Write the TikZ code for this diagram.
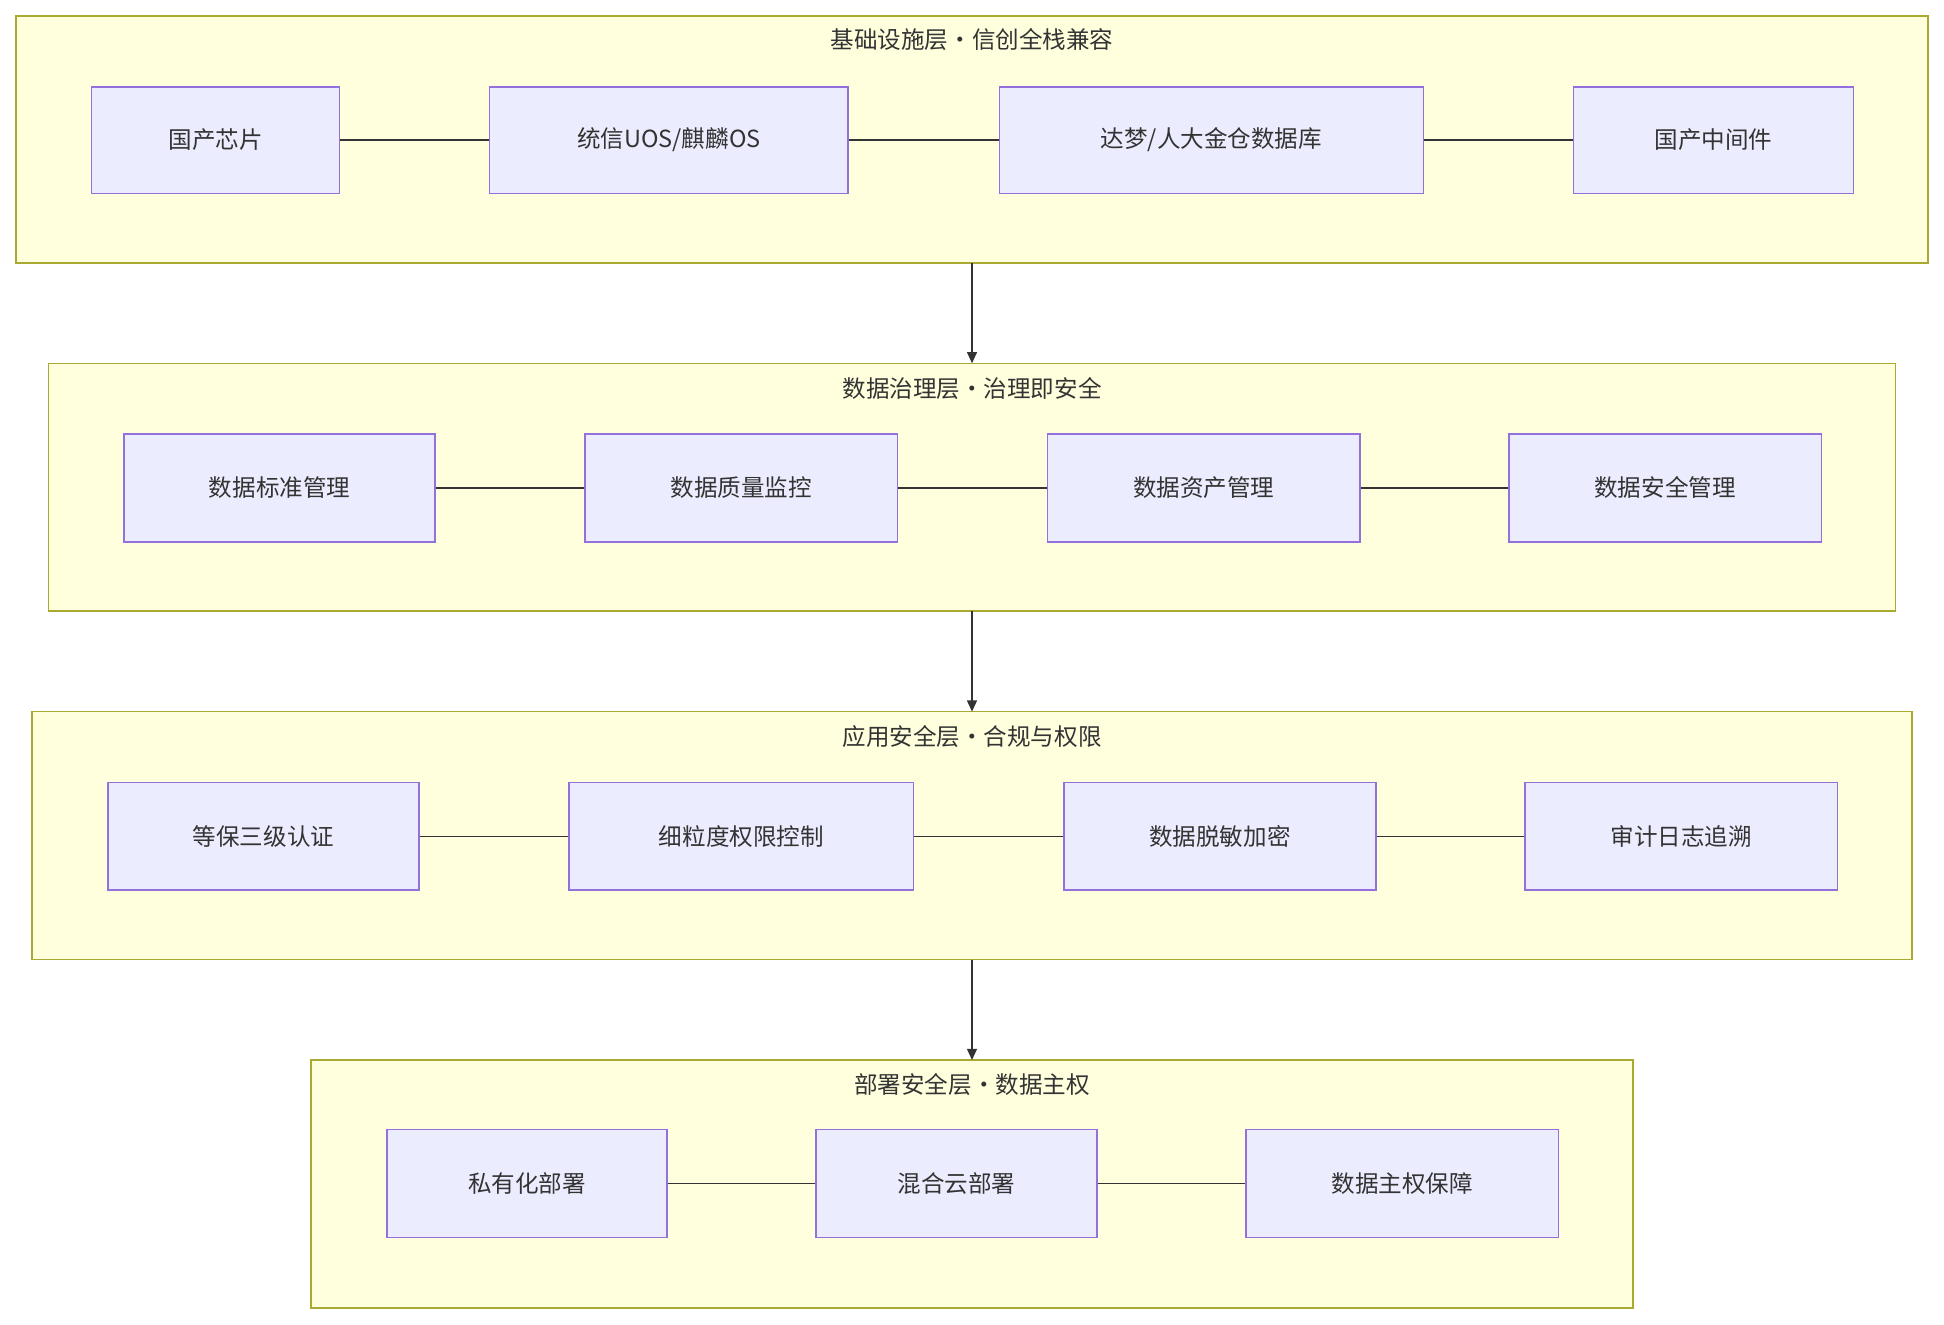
\documentclass[tikz,border=0pt]{standalone}
\usepackage{fontspec}
\setmainfont{Noto Sans CJK SC}
\usetikzlibrary{arrows.meta}
\definecolor{lay}{HTML}{FFFFDE}
\definecolor{layb}{HTML}{AAAA33}
\definecolor{nod}{HTML}{ECECFF}
\definecolor{nodb}{HTML}{9370DB}
\definecolor{ln}{HTML}{333333}
\tikzset{
 layer/.style={draw=layb,fill=lay,line width=1.2pt},
 ttl/.style={font=\fontsize{19}{22}\selectfont,text=ln},
 bx/.style={draw=nodb,fill=nod,line width=1.2pt,font=\fontsize{19}{22}\selectfont,text=ln,inner sep=0pt},
 con/.style={draw=ln,line width=1.2pt},
 arr/.style={draw=ln,line width=1.2pt,-{Triangle[length=9pt,width=8pt]}}
}
\newcommand{\mybox}[6]{\node[bx,minimum width=#3-#2,minimum height=#5-#4] (#1) at ({(#2+#3)/2},{(#4+#5)/2}) {#6};}
\begin{document}
\begin{tikzpicture}[x=1pt,y=-1pt]
\useasboundingbox (0,0) rectangle (1568,1068);
\draw[layer] (13,13) rectangle (1555,212); \coordinate (l1b) at (784,212);
\node[ttl] at (784,32) {基础设施层·信创全栈兼容};
\mybox{a1}{74}{274}{70}{156}{国产芯片}
\mybox{a2}{395}{684}{70}{156}{统信UOS/麒麟OS}
\mybox{a3}{806}{1148}{70}{156}{达梦/人大金仓数据库}
\mybox{a4}{1269}{1495}{70}{156}{国产中间件}
\draw[con] (a1)--(a2) (a2)--(a3) (a3)--(a4);

\draw[layer] (39,293) rectangle (1529,493); \coordinate (l2t) at (784,293); \coordinate (l2b) at (784,493);
\node[ttl] at (784,313) {数据治理层·治理即安全};
\mybox{b1}{100}{351}{350}{437}{数据标准管理}
\mybox{b2}{472}{724}{350}{437}{数据质量监控}
\mybox{b3}{845}{1097}{350}{437}{数据资产管理}
\mybox{b4}{1217}{1469}{350}{437}{数据安全管理}
\draw[con] (b1)--(b2) (b2)--(b3) (b3)--(b4);

\draw[layer] (26,574) rectangle (1542,774); \coordinate (l3t) at (784,574); \coordinate (l3b) at (784,774);
\node[ttl] at (784,594) {应用安全层·合规与权限};
\mybox{c1}{87}{338}{631}{718}{等保三级认证}
\mybox{c2}{459}{737}{631}{718}{细粒度权限控制}
\mybox{c3}{858}{1110}{631}{718}{数据脱敏加密}
\mybox{c4}{1230}{1482}{631}{718}{审计日志追溯}
\draw[con] (c1)--(c2) (c2)--(c3) (c3)--(c4);

\draw[layer] (251,855) rectangle (1317,1055); \coordinate (l4t) at (784,855);
\node[ttl] at (784,875) {部署安全层·数据主权};
\mybox{d1}{312}{538}{911}{998}{私有化部署}
\mybox{d2}{658}{885}{911}{998}{混合云部署}
\mybox{d3}{1005}{1257}{911}{998}{数据主权保障}
\draw[con] (d1)--(d2) (d2)--(d3);

\draw[arr] (l1b)--(l2t);
\draw[arr] (l2b)--(l3t);
\draw[arr] (l3b)--(l4t);
\end{tikzpicture}
\end{document}
